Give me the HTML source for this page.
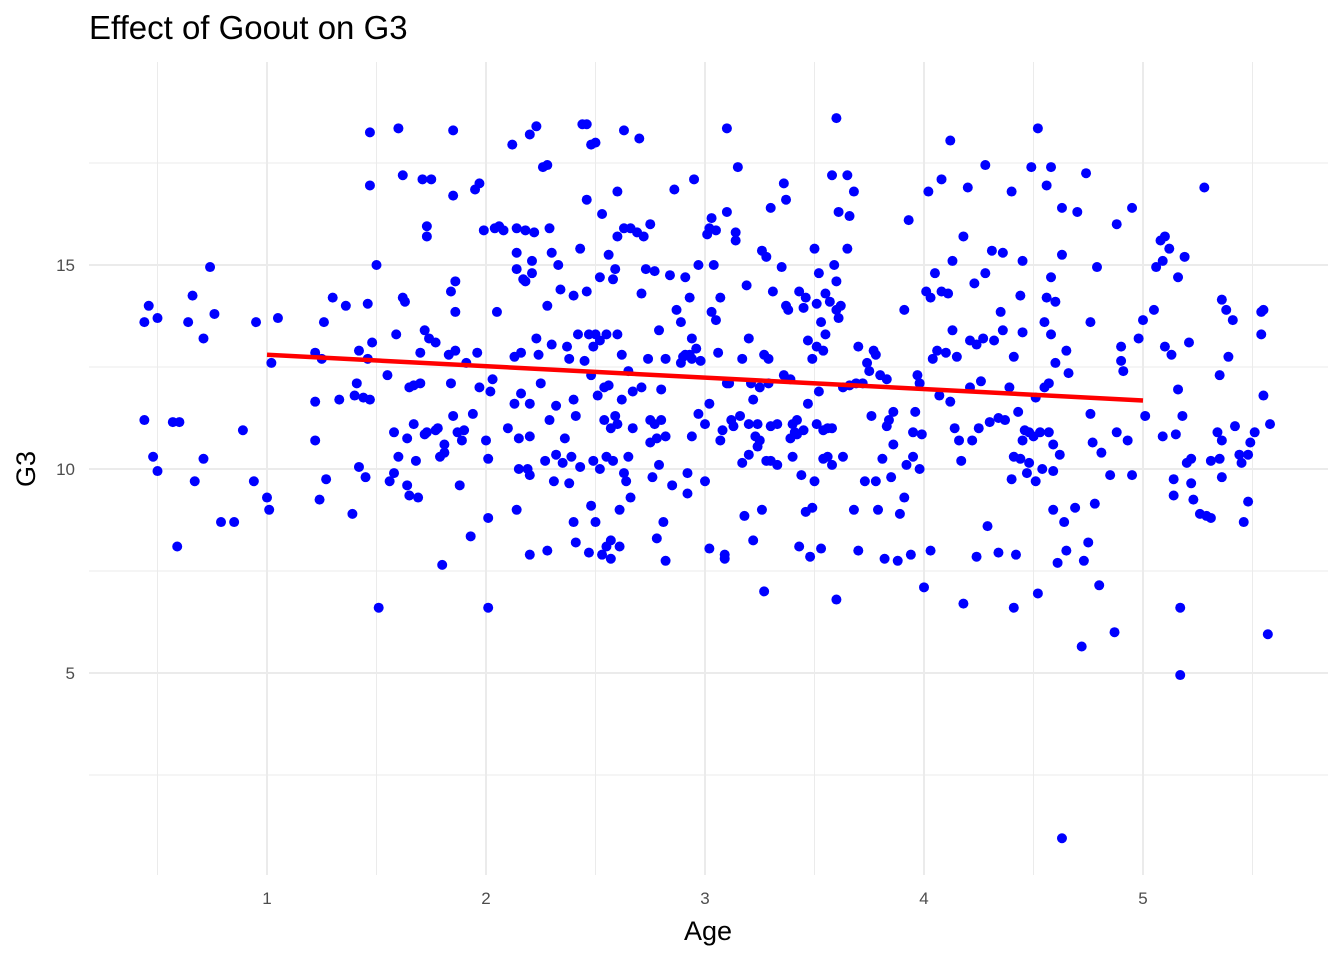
<!DOCTYPE html>
<html><head><meta charset="utf-8"><style>
html,body{margin:0;padding:0;background:#fff;}
svg{display:block;font-family:"Liberation Sans",Arial,sans-serif;}
</style></head><body>
<svg id="chart" width="1344" height="960"></svg>
<script>
const xTicks=[1,2,3,4,5];
const xTickLabels=["1","2","3","4","5"];
const yTicks=[5,10,15];
const yTickLabels=["5","10","15"];
const xMinor=[0.5,1.5,2.5,3.5,4.5,5.5];
const yMinor=[2.5,7.5,12.5,17.5];
const trendX=[1,5];
const trendY=[12.8,11.68];
const pts=[[0.44,13.6],[0.46,14.0],[0.5,13.7],[0.44,11.2],[0.48,10.3],[0.5,9.95],[0.57,11.15],[0.6,11.15],[0.59,8.1],[0.64,13.6],[0.66,14.25],[0.67,9.7],[0.71,13.2],[0.71,10.25],[0.74,14.95],[0.76,13.8],[0.79,8.7],[0.85,8.7],[0.89,10.95],[0.94,9.7],[0.95,13.6],[1.0,9.3],[1.01,9.0],[1.02,12.6],[1.05,13.7],
[1.22,10.7],[1.22,11.65],[1.22,12.85],[1.24,9.25],[1.26,13.6],[1.27,9.75],[1.25,12.7],[1.3,14.2],[1.33,11.7],[1.36,14.0],[1.39,8.9],[1.4,11.8],[1.41,12.1],[1.42,12.9],[1.42,10.05],[1.44,11.75],[1.45,9.8],[1.46,14.05],[1.46,12.7],[1.47,11.7],[1.48,13.1],[1.47,16.95],[1.47,18.25],[1.5,15.0],[1.51,6.6],[1.55,12.3],[1.56,9.7],[1.58,9.9],[1.58,10.9],[1.59,13.3],[1.6,18.35],[1.6,10.3],[1.62,17.2],[1.62,14.2],[1.63,14.1],[1.64,10.75],[1.64,9.6],[1.65,9.35],[1.65,12.0],[1.67,12.05],[1.67,11.1],[1.68,10.2],[1.69,9.3],[1.7,12.1],[1.7,12.85],[1.71,17.1],[1.72,13.4],[1.73,15.95],[1.73,15.7],[1.73,10.9],[1.72,10.85],[1.74,13.2],[1.75,17.1],[1.77,13.1],[1.77,10.95],[1.78,11.0],[1.79,10.3],[1.8,7.65],[1.81,10.6],[1.81,10.4],[1.83,12.8],[1.84,14.35],[1.84,12.1],[1.85,18.3],[1.85,16.7],[1.85,11.3],[1.86,12.9],[1.86,14.6],[1.86,13.85],[1.87,10.9],[1.88,9.6],[1.89,10.7],[1.9,10.95],[1.91,12.6],[1.93,8.35],[1.94,11.35],[1.95,16.85],[1.96,12.85],[1.97,17.0],[1.97,12.0],[1.99,15.85],[2.0,10.7],[2.01,6.6],[2.01,8.8],[2.01,10.25],[2.02,11.9],[2.03,12.2],[2.04,15.9],[2.05,13.85],[2.06,15.95],[2.08,15.85],[2.1,11.0],[2.12,17.95],[2.13,12.75],[2.13,11.6],[2.14,15.9],[2.14,14.9],[2.14,15.3],[2.14,9.0],[2.15,10.0],[2.15,10.75],[2.16,12.85],[2.16,11.85],[2.17,14.65],[2.18,15.85],[2.18,14.6],[2.19,10.0],[2.2,9.85],[2.2,11.6],[2.2,10.8],[2.2,7.9],[2.2,18.2],[2.21,14.8],[2.21,15.1],[2.22,15.8],[2.23,18.4],[2.23,13.2],[2.24,12.8],[2.25,12.1],[2.26,17.4],[2.27,10.2],[2.28,17.45],[2.28,14.0],[2.28,8.0],[2.29,15.9],[2.29,11.2],[2.3,13.05],[2.3,15.3],[2.31,9.7],[2.32,10.35],[2.32,11.55],[2.33,15.0],[2.34,14.4],[2.35,10.15],[2.36,10.75],[2.37,13.0],[2.38,9.65],[2.38,12.7],[2.39,10.3],[2.4,8.7],[2.4,11.7],[2.4,14.25],[2.41,11.3],[2.41,8.2],[2.42,13.3],[2.43,10.05],[2.43,15.4],[2.44,18.45],[2.45,12.65],[2.46,16.6],[2.46,18.45],[2.46,14.35],[2.47,7.95],[2.47,13.3],[2.48,12.3],[2.48,9.1],[2.48,17.95],[2.49,10.2],[2.49,13.0],[2.5,8.7],[2.5,18.0],[2.5,13.3],[2.51,11.8],[2.52,14.7],[2.52,10.0],[2.52,13.15],[2.53,7.9],[2.53,16.25],[2.54,11.2],[2.54,12.0],[2.55,8.1],[2.55,10.3],[2.55,13.3],[2.56,15.25],[2.56,12.05],[2.57,8.25],[2.57,11.0],[2.57,7.8],[2.58,14.65],[2.58,10.2],[2.59,14.9],[2.59,11.3],[2.6,15.7],[2.6,13.3],[2.6,16.8],[2.6,11.1],[2.61,8.1],[2.61,9.0],[2.62,12.8],[2.62,11.7],[2.63,15.9],[2.63,9.9],[2.63,18.3],[2.64,9.7],[2.65,10.3],[2.65,12.4],[2.66,9.3],[2.66,15.9],[2.67,11.9],[2.67,11.0],[2.69,15.8],[2.7,18.1],[2.71,14.3],[2.71,12.0],[2.72,15.7],[2.73,14.9],[2.74,12.7],[2.75,16.0],[2.75,11.2],[2.75,10.65],[2.76,9.8],[2.77,14.85],[2.77,11.1],[2.78,10.75],[2.78,8.3],[2.79,13.4],[2.79,10.1],[2.8,11.95],[2.8,11.2],[2.81,8.7],[2.82,12.7],[2.82,10.8],[2.82,7.75],[2.84,14.75],[2.85,9.6],[2.86,16.85],[2.87,13.9],[2.89,13.6],[2.89,12.6],[2.9,12.75],[2.91,14.7],[2.91,12.8],[2.92,9.9],[2.92,9.4],[2.93,12.8],[2.93,14.2],[2.94,12.7],[2.94,10.8],[2.94,13.2],[2.95,17.1],[2.96,12.95],[2.97,11.35],[2.97,15.0],[2.98,12.65],[3.0,11.1],[3.0,9.7],[3.01,15.75],[3.02,8.05],[3.02,11.6],[3.02,15.9],[3.03,13.85],[3.03,16.15],[3.04,15.0],[3.05,13.65],[3.05,15.85],[3.06,12.85],[3.07,14.2],[3.07,10.7],[3.08,10.95],[3.09,7.9],[3.09,7.8],[3.1,18.35],[3.1,12.1],[3.1,16.3],[3.11,12.1],[3.12,11.2],[3.13,11.05],[3.14,15.8],[3.14,15.6],[3.15,17.4],[3.16,11.3],[3.17,12.7],[3.17,10.15],[3.18,8.85],[3.19,14.5],[3.2,10.35],[3.2,13.2],[3.2,11.1],[3.21,12.1],[3.22,11.7],[3.22,8.25],[3.23,10.8],[3.24,10.55],[3.24,11.1],[3.25,12.0],[3.25,10.7],[3.26,9.0],[3.26,15.35],[3.27,7.0],[3.27,12.8],[3.28,15.2],[3.28,10.2],[3.29,12.1],[3.29,12.7],[3.3,10.2],[3.3,11.05],[3.3,16.4],[3.31,14.35],[3.33,11.1],[3.33,10.1],[3.35,14.95],[3.36,12.3],[3.36,17.0],[3.37,16.6],[3.37,14.0],[3.38,13.9],[3.39,10.75],[3.39,12.2],[3.4,11.1],[3.4,10.3],[3.41,10.9],[3.42,11.2],[3.42,10.85],[3.43,8.1],[3.43,14.35],[3.44,9.85],[3.45,13.95],[3.45,10.95],[3.46,8.95],[3.46,14.2],[3.47,13.15],[3.47,11.6],[3.48,7.85],[3.49,9.05],[3.49,12.7],[3.5,15.4],[3.5,9.7],[3.51,11.1],[3.51,14.05],[3.51,13.0],[3.52,14.8],[3.52,11.9],[3.53,13.6],[3.53,8.05],[3.54,10.95],[3.54,10.25],[3.54,12.9],[3.55,14.3],[3.55,13.3],[3.56,11.0],[3.56,10.3],[3.57,14.1],[3.58,17.2],[3.58,10.1],[3.58,11.0],[3.59,15.0],[3.6,18.6],[3.6,14.6],[3.6,6.8],[3.6,13.9],[3.61,16.3],[3.61,13.7],[3.62,14.0],[3.63,10.3],[3.63,12.0],[3.65,17.2],[3.65,15.4],[3.66,16.2],[3.66,12.05],[3.68,9.0],[3.68,16.8],[3.69,12.1],[3.7,13.0],[3.7,8.0],[3.72,12.1],[3.73,9.7],[3.74,12.6],[3.75,12.4],[3.76,11.3],[3.77,12.9],[3.78,12.8],[3.78,9.7],[3.79,9.0],[3.8,12.3],[3.81,10.25],[3.82,7.8],[3.83,11.05],[3.83,12.2],[3.84,11.2],[3.85,9.8],[3.86,11.4],[3.86,10.6],[3.88,7.75],[3.89,8.9],[3.91,13.9],[3.91,9.3],[3.92,10.1],[3.93,16.1],[3.94,7.9],[3.95,10.9],[3.95,10.3],[3.96,11.4],[3.97,12.3],[3.98,12.1],[3.98,10.0],[3.99,10.85],[4.0,7.1],[4.01,14.35],[4.02,16.8],[4.03,14.2],[4.03,8.0],[4.04,12.7],[4.05,14.8],[4.06,12.9],[4.07,11.8],[4.08,14.35],[4.08,17.1],[4.1,12.85],[4.11,14.3],[4.12,18.05],[4.12,11.65],[4.13,13.4],[4.13,15.1],[4.14,11.0],[4.15,12.75],[4.16,10.7],[4.17,10.2],[4.18,15.7],[4.18,6.7],[4.2,16.9],[4.21,13.15],[4.21,12.0],[4.22,10.7],[4.23,14.55],[4.24,7.85],[4.24,13.05],[4.25,11.0],[4.26,12.15],[4.27,13.2],[4.28,17.45],[4.28,14.8],[4.29,8.6],[4.3,11.15],[4.31,15.35],[4.32,13.15],[4.34,11.25],[4.34,7.95],[4.35,13.85],[4.36,13.4],[4.36,15.3],[4.37,11.2],[4.39,12.0],[4.4,16.8],[4.4,9.75],[4.41,6.6],[4.41,10.3],[4.41,12.75],[4.42,7.9],[4.43,11.4],[4.44,14.25],[4.44,10.25],[4.45,10.7],[4.45,15.1],[4.45,13.35],[4.46,10.95],[4.47,9.9],[4.48,10.15],[4.48,10.9],[4.49,17.4],[4.5,10.8],[4.51,9.7],[4.51,11.75],[4.52,6.95],[4.52,18.35],[4.53,10.9],[4.54,10.0],[4.55,13.6],[4.55,12.0],[4.56,16.95],[4.56,14.2],[4.57,10.9],[4.57,12.1],[4.58,17.4],[4.58,14.7],[4.58,13.3],[4.59,10.6],[4.59,9.95],[4.59,9.0],[4.6,14.1],[4.6,12.6],[4.61,7.7],[4.62,10.35],[4.63,0.95],[4.63,15.25],[4.63,16.4],[4.64,8.7],[4.65,12.9],[4.65,8.0],[4.66,12.35],[4.69,9.05],[4.7,16.3],[4.72,5.65],[4.73,7.75],[4.74,17.25],[4.75,8.2],[4.76,13.6],[4.76,11.35],[4.77,10.65],[4.78,9.15],[4.79,14.95],[4.8,7.15],[4.81,10.4],[4.85,9.85],[4.87,6.0],[4.88,16.0],[4.88,10.9],[4.9,13.0],[4.9,12.65],[4.91,12.4],[4.93,10.7],[4.95,16.4],[4.95,9.85],[4.98,13.2],[5.0,13.65],[5.01,11.3],[5.06,14.95],[5.08,15.6],[5.09,15.1],[5.09,10.8],[5.1,15.7],[5.12,15.4],[5.13,12.8],[5.14,9.35],[5.14,9.75],[5.15,10.85],[5.16,14.7],[5.16,11.95],[5.17,6.6],[5.17,4.95],[5.18,11.3],[5.19,15.2],[5.2,10.15],[5.21,13.1],[5.22,9.65],[5.22,10.25],[5.23,9.25],[5.26,8.9],[5.28,16.9],[5.29,8.85],[5.31,10.2],[5.31,8.8],[5.34,10.9],[5.35,12.3],[5.35,10.25],[5.36,14.15],[5.36,10.7],[5.36,9.8],[5.38,13.9],[5.39,12.75],[5.41,13.65],[5.42,11.05],[5.44,10.35],[5.45,10.15],[5.46,8.7],[5.48,10.35],[5.48,9.2],[5.49,10.65],[5.51,10.9],[5.54,13.3],[5.54,13.85],[5.55,11.8],[5.57,5.95],[5.58,11.1],[5.55,13.9],[5.1,13.0],[5.05,13.9]];

const NS="http://www.w3.org/2000/svg";
const svg=document.getElementById('chart');
const L=89,R=1328,T=62,B=875;
const X=v=>267+(v-1)*219;
const Y=v=>469-(v-10)*40.8;
function mk(tag,attrs,parent){const e=document.createElementNS(NS,tag);for(const k in attrs)e.setAttribute(k,attrs[k]);(parent||svg).appendChild(e);return e;}

const grid=mk('g',{});


xMinor.forEach(v=>{mk('line',{x1:X(v),x2:X(v),y1:T,y2:B,stroke:'#ebebeb','stroke-width':1},grid);});
yMinor.forEach(v=>{mk('line',{x1:L,x2:R,y1:Y(v),y2:Y(v),stroke:'#ebebeb','stroke-width':1},grid);});
xTicks.forEach(v=>{mk('line',{x1:X(v),x2:X(v),y1:T,y2:B,stroke:'#ebebeb','stroke-width':2},grid);});
yTicks.forEach(v=>{mk('line',{x1:L,x2:R,y1:Y(v),y2:Y(v),stroke:'#ebebeb','stroke-width':2},grid);});

xTicks.forEach((v,i)=>{const t=mk('text',{x:X(v),y:904,'text-anchor':'middle','font-size':17,fill:'#4d4d4d'});t.textContent=xTickLabels[i];

});
yTicks.forEach((v,i)=>{const t=mk('text',{x:75,y:Y(v)+6,'text-anchor':'end','font-size':17,fill:'#4d4d4d'});t.textContent=yTickLabels[i];

});

const pg=mk('g',{fill:'#0000ff'});


pts.forEach(p=>{const c=mk('circle',{cx:X(p[0]),cy:Y(p[1]),r:5},pg);

});

const tl=mk('line',{x1:X(trendX[0]),y1:Y(trendY[0]),x2:X(trendX[1]),y2:Y(trendY[1]),stroke:'#ff0000','stroke-width':4.5});



const ti=mk('text',{x:89,y:39,'font-size':33,fill:'#000'});ti.textContent='Effect of Goout on G3';


const xt=mk('text',{x:708,y:940,'text-anchor':'middle','font-size':27,fill:'#000'});xt.textContent='Age';


const yt=mk('text',{x:0,y:0,'text-anchor':'middle','font-size':27,fill:'#000',transform:'translate(35,469) rotate(-90)'});yt.textContent='G3';


</script>
</body></html>
